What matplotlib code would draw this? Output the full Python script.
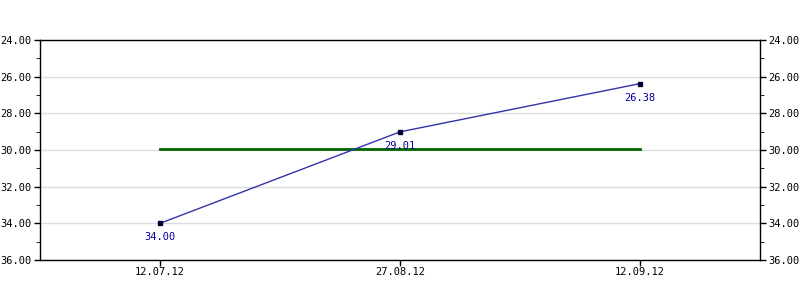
import numpy as np
import matplotlib.pyplot as plt
from matplotlib.ticker import MultipleLocator

dates = ['12.07.12', '27.08.12', '12.09.12']
values = [34.00, 29.01, 26.38]
avg_level = 29.93
yticks = [24, 26, 28, 30, 32, 34, 36]

plt.rcParams['font.family'] = 'DejaVu Sans Mono'
fig = plt.figure(figsize=(8, 3), dpi=100)
ax = fig.add_axes([0.05, 0.1333, 0.9, 0.7334])
x = np.arange(len(dates))

for yv in yticks:
    ax.axhline(yv, color='#dddddd', lw=1, zorder=0)
ax.plot([x[0], x[-1]], [avg_level, avg_level], color='#006600', lw=2, zorder=2)
ax.plot(x, values, color='#3333aa', lw=1, marker='s', ms=3.5,
        mfc='#000033', mec='#000033', zorder=3)
for xi, v in zip(x, values):
    ax.annotate('%.2f' % v, (xi, v), xytext=(0, -10), textcoords='offset points',
                ha='center', va='center', fontsize=7.5, color='#000099')

ax.set_xlim(-0.5, 2.5)
ax.set_ylim(36, 24)
ax.set_xticks(x)
ax.set_xticklabels(dates)
ax.set_yticks(yticks)
ax.set_yticklabels(['%.2f' % t for t in yticks])
ax.yaxis.set_minor_locator(MultipleLocator(1))
ax.tick_params(axis='both', labelsize=7.5, direction='out', length=4, width=1, pad=2)
ax.tick_params(axis='x', pad=1)
ax.tick_params(axis='y', which='minor', length=3, direction='out')
ax.tick_params(axis='y', which='both', left=True, right=True, labelleft=True, labelright=True)
ax.tick_params(axis='x', which='both', top=False)
for s in ax.spines.values():
    s.set_color('black')
    s.set_linewidth(1)

fig.savefig('out.png', dpi=100)
